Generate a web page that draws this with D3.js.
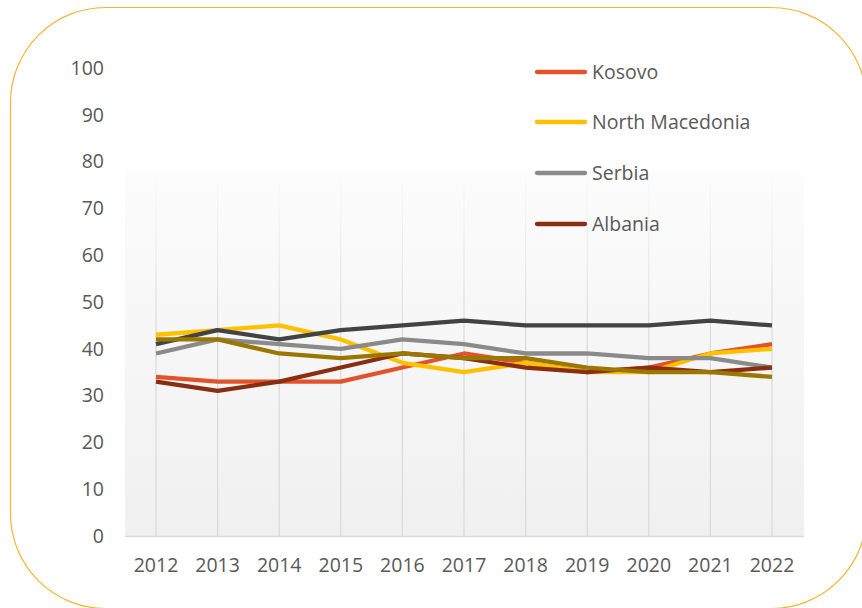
<!DOCTYPE html>
<html>
<head>
<meta charset="utf-8">
<script src="https://cdn.jsdelivr.net/npm/d3@7"></script>
<style>
  html, body { margin: 0; padding: 0; background: #fff; }
  svg text { font-family: "Open Sans", sans-serif; fill: #595959; }
</style>
</head>
<body>
<svg id="chart" width="862" height="608"></svg>
<script>
// values
const years = [2012, 2013, 2014, 2015, 2016, 2017, 2018, 2019, 2020, 2021, 2022];
const yTicks = [0, 10, 20, 30, 40, 50, 60, 70, 80, 90, 100];

const kosovo    = [34, 33, 33, 33, 36, 39, 37, 35, 36, 39, 41];
const macedonia = [43, 44, 45, 42, 37, 35, 37, 35, 35, 39, 40];
const serbia    = [39, 42, 41, 40, 42, 41, 39, 39, 38, 38, 36];
const albania   = [33, 31, 33, 36, 39, 38, 36, 35, 36, 35, 36];
// two more series drawn without a legend entry
const series5   = [41, 44, 42, 44, 45, 46, 45, 45, 45, 46, 45];
const series6   = [42, 42, 39, 38, 39, 38, 38, 36, 35, 35, 34];

const series = [
  { name: "Kosovo", values: kosovo, color: "#e2532b", legend: true },
  { name: "North Macedonia", values: macedonia, color: "#ffc000", legend: true },
  { name: "Serbia", values: serbia, color: "#8a8a8a", legend: true },
  { name: "Albania", values: albania, color: "#8a2e12", legend: true },
  { name: "series5", values: series5, color: "#434343", legend: false },
  { name: "series6", values: series6, color: "#9a7800", legend: false }
];

const svg = d3.select("#chart");

// rounded frame
svg.append("rect")
  .attr("x", 10.5).attr("y", 7.5)
  .attr("width", 856).attr("height", 601)
  .attr("rx", 95).attr("ry", 95)
  .attr("fill", "none")
  .attr("stroke", "#f4b434")
  .attr("stroke-width", 1.2);

const x = d3.scalePoint()
  .domain(years)
  .range([156, 772]);

const y = d3.scaleLinear()
  .domain([0, 100])
  .range([536, 68]);

const plotLeft = 125, plotRight = 804, plotTop = 172;

// plot area gradient
const defs = svg.append("defs");
const grad = defs.append("linearGradient")
  .attr("id", "bg").attr("x1", 0).attr("y1", 0).attr("x2", 0).attr("y2", 1);
grad.append("stop").attr("offset", "0%").attr("stop-color", "#fcfcfc");
grad.append("stop").attr("offset", "100%").attr("stop-color", "#f0f0f0");

// gridlines fade out towards the top
const gridGrad = defs.append("linearGradient")
  .attr("id", "gridfade")
  .attr("gradientUnits", "userSpaceOnUse")
  .attr("x1", 0).attr("x2", 0)
  .attr("y1", plotTop).attr("y2", y(40));
gridGrad.append("stop").attr("offset", "0%").attr("stop-color", "#d9d9d9").attr("stop-opacity", 0);
gridGrad.append("stop").attr("offset", "100%").attr("stop-color", "#d9d9d9").attr("stop-opacity", 1);

svg.append("rect")
  .attr("x", plotLeft).attr("y", plotTop)
  .attr("width", plotRight - plotLeft)
  .attr("height", y(0) - plotTop)
  .attr("fill", "url(#bg)");

// vertical gridlines
svg.append("g")
  .selectAll("rect")
  .data(years)
  .join("rect")
  .attr("x", d => x(d) - 0.6)
  .attr("width", 1.2)
  .attr("y", plotTop)
  .attr("height", y(0) - plotTop)
  .attr("fill", "url(#gridfade)");

// baseline
svg.append("line")
  .attr("x1", plotLeft).attr("x2", plotRight)
  .attr("y1", y(0) + 0.5).attr("y2", y(0) + 0.5)
  .attr("stroke", "#d9d9d9")
  .attr("stroke-width", 1.5);

// y axis labels
svg.append("g")
  .selectAll("text")
  .data(yTicks)
  .join("text")
  .attr("x", 104)
  .attr("y", d => y(d))
  .attr("dy", "0.35em")
  .attr("text-anchor", "end")
  .style("font-size", "19.5px")
  .text(d => d);

// x axis labels
svg.append("g")
  .selectAll("text")
  .data(years)
  .join("text")
  .attr("x", d => x(d))
  .attr("y", 565)
  .attr("dy", "0.35em")
  .attr("text-anchor", "middle")
  .style("font-size", "19.5px")
  .text(d => d);

// lines
const line = d3.line()
  .x((d, i) => x(years[i]))
  .y(d => y(d));

svg.append("g")
  .selectAll("path")
  .data(series)
  .join("path")
  .attr("fill", "none")
  .attr("stroke", d => d.color)
  .attr("stroke-width", 4.3)
  .attr("stroke-linejoin", "round")
  .attr("d", d => line(d.values));

// legend
const legendY = [72, 122, 173, 224];
const legend = svg.append("g")
  .selectAll("g")
  .data(series.filter(d => d.legend))
  .join("g")
  .attr("transform", (d, i) => `translate(537,${legendY[i]})`);

legend.append("line")
  .attr("x1", 0).attr("x2", 48)
  .attr("stroke", d => d.color)
  .attr("stroke-width", 4.3)
  .attr("stroke-linecap", "round");

legend.append("text")
  .attr("x", 55)
  .attr("dy", "0.35em")
  .style("font-size", "19.5px")
  .text(d => d.name);
</script>
</body>
</html>
